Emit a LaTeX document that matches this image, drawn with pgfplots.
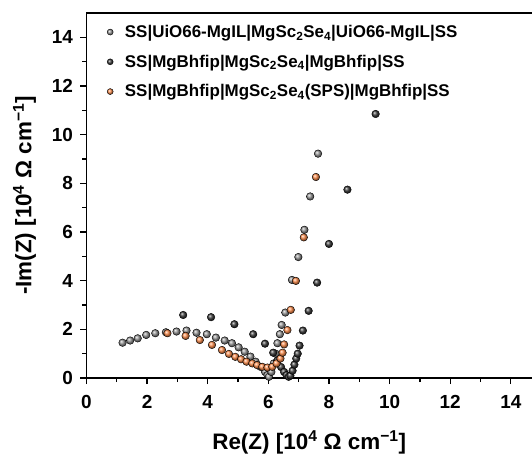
\documentclass[border=0pt]{standalone}
\usepackage{pgfplots}
\pgfplotsset{compat=1.18}
\usepackage{fontspec}
\setmainfont{Liberation Sans}
\definecolor{cgray}{RGB}{150,150,150}
\definecolor{cdark}{RGB}{60,60,60}
\definecolor{corange}{RGB}{252,140,75}
\begin{document}
\begin{tikzpicture}
\path[use as bounding box] (-86.5bp,-81bp) rectangle (445.5bp,378bp);
\begin{axis}[
  at={(0,0)}, anchor=south west,
  scale only axis, width=445.5bp, height=365bp,
  xmin=0, xmax=14.7, ymin=0, ymax=15,
  axis x line*=bottom, axis y line*=left,
  axis line style={line width=1.6bp, -},
  xtick={0,2,...,14}, ytick={0,2,...,14},
  minor xtick={1,3,...,13}, minor ytick={1,3,...,13},
  tick align=outside,
  major tick length=6bp, minor tick length=4bp,
  every tick/.style={black, line width=1.3bp},
  tick label style={font=\fontsize{19}{20}\selectfont\bfseries},
  xticklabel style={yshift=-8bp},
  yticklabel style={xshift=-4bp},
  /pgf/number format/assume math mode=true,
  xlabel={Re(Z) [10\textsuperscript{4} Ω cm\textsuperscript{−1}]},
  ylabel={-Im(Z) [10\textsuperscript{4} Ω cm\textsuperscript{−1}]},
  label style={font=\fontsize{22.5}{23}\selectfont\bfseries},
  xlabel style={yshift=-15bp},
  ylabel style={yshift=9bp},
  legend image code/.code={\path[#1,only marks,draw=none,mark size=3bp] plot coordinates {(0.3cm,0cm)}; \path[draw=none,fill=none] (0cm,0cm) -- (0.75cm,0cm);},
  legend style={at={(rel axis cs:0,1)}, anchor=north west, xshift=12bp, yshift=-8bp,
    draw=none, fill=none, font=\fontsize{17}{18}\selectfont\bfseries,
    row sep=12bp, cells={anchor=west}},
  legend cell align=left,
  clip=false,
]
\addplot[only marks, mark=ball, mark size=3.8bp, ball color=cgray] coordinates {
(1.19,1.45)(1.44,1.54)(1.69,1.63)(1.97,1.77)(2.27,1.84)(2.62,1.88)(2.97,1.91)(3.3,1.95)
(3.63,1.86)(3.97,1.8)(4.27,1.66)(4.56,1.54)(4.8,1.43)(5.02,1.26)(5.22,1.08)(5.41,0.88)
(5.58,0.67)(5.74,0.46)(5.89,0.26)(5.97,0.12)(6.02,0.05)(6.1,0.25)(6.18,0.6)(6.24,1.0)
(6.3,1.43)(6.38,1.8)(6.44,2.18)(6.56,2.69)(6.78,4.03)(6.99,4.97)(7.19,6.09)(7.38,7.46)(7.64,9.22)
};
\addlegendentry{SS|UiO66-MgIL|MgSc\textsubscript{2}Se\textsubscript{4}|UiO66-MgIL|SS}
\addplot[only marks, mark=ball, mark size=3.8bp, ball color=cdark] coordinates {
(3.19,2.59)(4.11,2.5)(4.88,2.21)(5.5,1.8)(5.89,1.41)(6.16,1.04)(6.3,0.72)(6.42,0.45)
(6.52,0.25)(6.6,0.12)(6.67,0.05)(6.73,0.1)(6.8,0.3)(6.86,0.55)(6.92,0.8)(6.97,1.0)
(7.03,1.33)(7.14,1.95)(7.33,2.76)(7.61,3.92)(8.0,5.51)(8.61,7.74)(9.54,10.85)
};
\addlegendentry{SS|MgBhfip|MgSc\textsubscript{2}Se\textsubscript{4}|MgBhfip|SS}
\addplot[only marks, mark=ball, mark size=3.8bp, ball color=corange] coordinates {
(2.67,1.84)(3.27,1.73)(3.74,1.56)(4.14,1.36)(4.47,1.15)(4.7,0.99)(4.91,0.87)(5.1,0.77)
(5.28,0.67)(5.47,0.6)(5.63,0.53)(5.8,0.46)(5.97,0.43)(6.13,0.46)(6.27,0.6)(6.4,0.8)
(6.47,1.04)(6.52,1.38)(6.63,1.97)(6.74,2.8)(6.91,3.99)(7.17,5.78)(7.57,8.26)
};
\addlegendentry{SS|MgBhfip|MgSc\textsubscript{2}Se\textsubscript{4}(SPS)|MgBhfip|SS}
\draw[line width=1.6bp] (rel axis cs:0,1) -- (rel axis cs:1,1);
\end{axis}
\end{tikzpicture}
\end{document}
